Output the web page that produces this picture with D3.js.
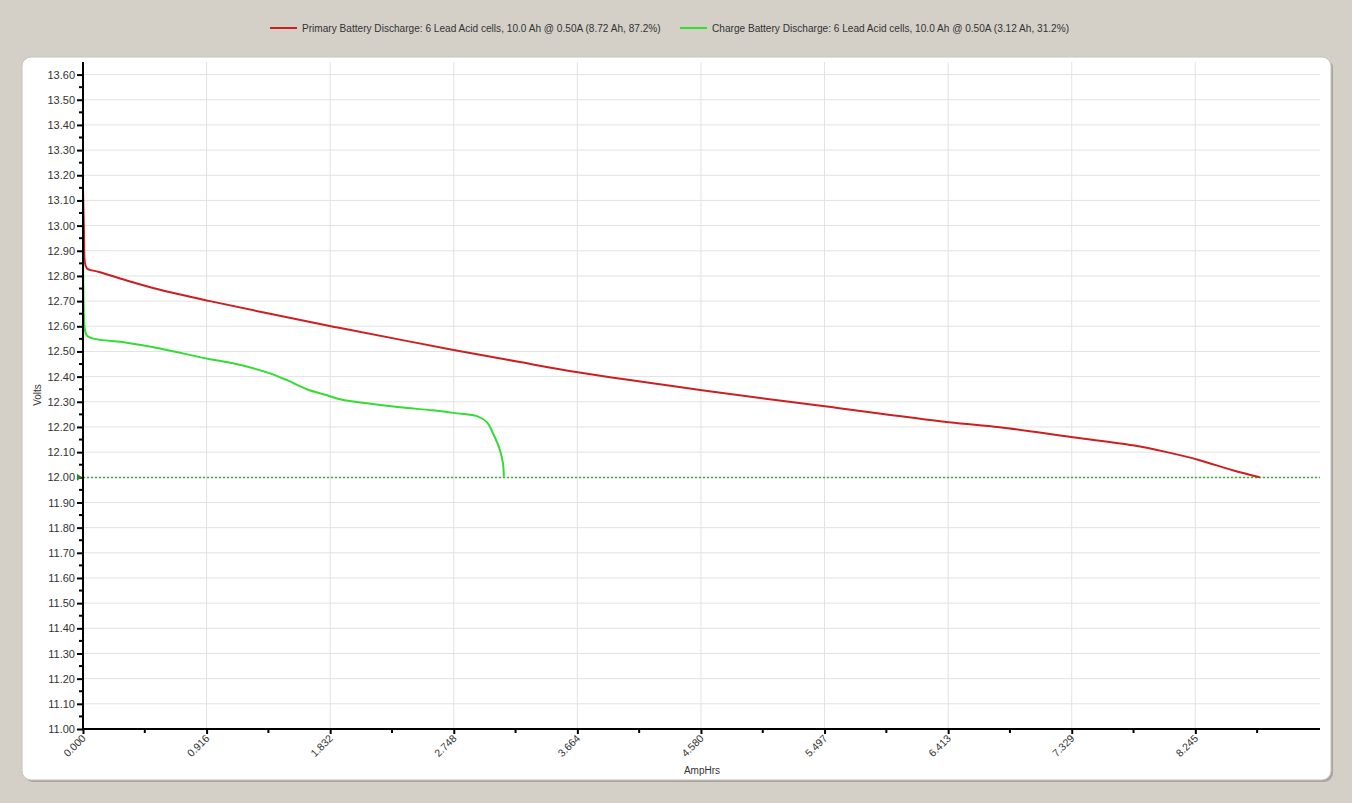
<!DOCTYPE html>
<html>
<head>
<meta charset="utf-8">
<script src="https://cdn.jsdelivr.net/npm/d3@7/dist/d3.min.js"></script>
<style>
  html, body { margin: 0; padding: 0; background: #d4d0c8; }
  svg { display: block; font-family: "Liberation Sans", Arial, sans-serif; }
</style>
</head>
<body>
<div id="chart"></div>
<script>
// Series data: [AmpHrs, Volts]
const primaryData = [
  [0.000, 13.15], [0.007, 12.98], [0.015, 12.85], [0.030, 12.83], [0.126, 12.815],
  [0.324, 12.782], [0.571, 12.745], [0.941, 12.700], [1.838, 12.600], [1.927, 12.591],
  [2.757, 12.505], [3.239, 12.458], [3.669, 12.417], [4.588, 12.346], [5.499, 12.282],
  [6.418, 12.219], [6.796, 12.199], [7.337, 12.159], [7.782, 12.127], [8.034, 12.100],
  [8.278, 12.068], [8.523, 12.028], [8.723, 12.000]
];
const chargeData = [
  [0.000, 12.88], [0.004, 12.70], [0.007, 12.64], [0.015, 12.584], [0.027, 12.564],
  [0.076, 12.551], [0.324, 12.535], [0.571, 12.512], [0.941, 12.469], [1.112, 12.453],
  [1.364, 12.417], [1.512, 12.386], [1.660, 12.350], [1.808, 12.326], [1.905, 12.310],
  [2.105, 12.294], [2.349, 12.278], [2.594, 12.266], [2.772, 12.254], [2.920, 12.243],
  [2.994, 12.219], [3.039, 12.175], [3.091, 12.108], [3.113, 12.056], [3.120, 12.000]
];
const seriesNames = [
  "Primary Battery Discharge: 6 Lead Acid cells, 10.0 Ah @ 0.50A (8.72 Ah, 87.2%)",
  "Charge Battery Discharge: 6 Lead Acid cells, 10.0 Ah @ 0.50A (3.12 Ah, 31.2%)"
];
const seriesColors = ["#cc2020", "#33dd33"];
const xTickLabels = ["0.000", "0.916", "1.832", "2.748", "3.664", "4.580", "5.497", "6.413", "7.329", "8.245"];
const xStep = 0.9162;
const xMax = 9.17;
const yMin = 11.0, yMax = 13.65;
const cutoffVolts = 12.0;

const W = 1352, H = 803;
const margin = { left: 83, right: 32, top: 62, bottom: 74 };

const svg = d3.select("#chart").append("svg")
  .attr("width", W).attr("height", H);

// panel
svg.append("rect").attr("x", 24).attr("y", 59).attr("width", 1309).attr("height", 723)
  .attr("rx", 9).attr("fill", "#a8a49c");
svg.append("rect").attr("x", 22).attr("y", 57).attr("width", 1309).attr("height", 723)
  .attr("rx", 9).attr("fill", "#ffffff").attr("stroke", "#c8c4bc").attr("stroke-width", 1);

const x = d3.scaleLinear().domain([0, xMax]).range([margin.left, W - margin.right]);
const y = d3.scaleLinear().domain([yMin, yMax]).range([H - margin.bottom, margin.top]);

const xMajor = xTickLabels.map((d, i) => i * xStep);
const xMinor = xMajor.map(v => v + xStep / 2).filter(v => v < xMax);
const yMajor = d3.range(0, 27).map(i => +(yMin + i * 0.1).toFixed(2));
const yMinor = d3.range(0, 26).map(i => yMin + 0.05 + i * 0.1);

// grid
svg.append("g").selectAll("line").data(yMajor.slice(1)).join("line")
  .attr("x1", x(0)).attr("x2", x(xMax))
  .attr("y1", d => y(d)).attr("y2", d => y(d))
  .attr("stroke", "#e2e2e2").attr("stroke-width", 1);
svg.append("g").selectAll("line").data(xMajor.slice(1)).join("line")
  .attr("x1", d => x(d)).attr("x2", d => x(d))
  .attr("y1", y(yMin)).attr("y2", y(yMax))
  .attr("stroke", "#e2e2e2").attr("stroke-width", 1);

// cutoff line
svg.append("line")
  .attr("x1", x(0)).attr("x2", x(xMax))
  .attr("y1", Math.round(y(cutoffVolts)) + 0.5).attr("y2", Math.round(y(cutoffVolts)) + 0.5)
  .attr("stroke", "#3fae3f").attr("stroke-width", 1.4).attr("stroke-dasharray", "2,2");

// lines
[primaryData, chargeData].forEach((data, i) => {
  svg.append("path").datum(data)
    .attr("fill", "none").attr("stroke", seriesColors[i]).attr("stroke-width", 2)
    .attr("stroke-linejoin", "round")
    .attr("d", d3.line().x(d => x(d[0])).y(d => y(d[1])).curve(d3.curveCatmullRom.alpha(0.5)));
});

// y axis
const yAxis = svg.append("g").attr("transform", `translate(${x(0)},0)`)
  .call(d3.axisLeft(y).tickValues(yMajor).tickFormat(d3.format(".2f")).tickSize(6).tickPadding(2));
yAxis.select(".domain").attr("stroke-width", 2).attr("d", `M0,${y(yMax)}V${y(yMin)}`);
yAxis.selectAll(".tick line").attr("stroke-width", 2);
yAxis.selectAll(".tick text").attr("font-size", 11).attr("fill", "#333")
  .attr("font-family", "Liberation Sans, Arial, sans-serif");
svg.append("g").selectAll("line").data(yMinor).join("line")
  .attr("x1", x(0) - 4).attr("x2", x(0))
  .attr("y1", d => y(d)).attr("y2", d => y(d))
  .attr("stroke", "#000").attr("stroke-width", 2);
svg.append("path")
  .attr("d", `M${x(0) - 6},${y(cutoffVolts) - 3.5}L${x(0) - 1},${y(cutoffVolts)}L${x(0) - 6},${y(cutoffVolts) + 3.5}Z`)
  .attr("fill", "#2a8a2a");

// x axis
const xAxis = svg.append("g").attr("transform", `translate(0,${y(yMin)})`)
  .call(d3.axisBottom(x).tickValues(xMajor).tickFormat((d, i) => xTickLabels[i]).tickSize(5));
xAxis.select(".domain").attr("stroke-width", 2).attr("d", `M${x(0) - 1},0H${x(xMax)}`);
xAxis.selectAll(".tick line").attr("stroke-width", 2);
xAxis.selectAll(".tick text")
  .attr("font-size", 10.5).attr("fill", "#333")
  .attr("font-family", "Liberation Sans, Arial, sans-serif")
  .attr("text-anchor", "end").attr("dy", null).attr("y", 0)
  .attr("transform", "translate(3,10) rotate(-45)");
svg.append("g").selectAll("line").data(xMinor).join("line")
  .attr("x1", d => x(d)).attr("x2", d => x(d))
  .attr("y1", y(yMin)).attr("y2", y(yMin) + 4)
  .attr("stroke", "#000").attr("stroke-width", 2);

// axis titles
svg.append("text").attr("x", 702).attr("y", 774).attr("text-anchor", "middle")
  .attr("font-size", 10).attr("fill", "#333").text("AmpHrs");
svg.append("text").attr("transform", "translate(41,395) rotate(-90)").attr("text-anchor", "middle")
  .attr("font-size", 10).attr("fill", "#333").text("Volts");

// legend
const legendX = [270, 680];
seriesNames.forEach((name, i) => {
  const g = svg.append("g").attr("transform", `translate(${legendX[i]},28)`);
  g.append("line").attr("x1", 0).attr("x2", 27).attr("y1", 0).attr("y2", 0)
    .attr("stroke", seriesColors[i]).attr("stroke-width", 2);
  g.append("text").attr("x", 32).attr("y", 4).attr("font-size", 10.1).attr("fill", "#333").text(name);
});
</script>
</body>
</html>
